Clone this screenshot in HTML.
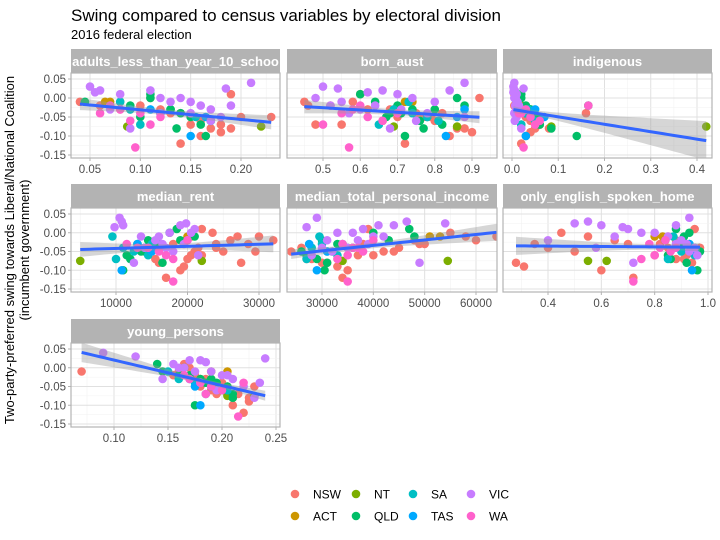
<!DOCTYPE html>
<html><head><meta charset="utf-8"><style>
body{margin:0;background:#fff;}
svg{display:block;font-family:"Liberation Sans",sans-serif;}
</style></head><body>
<svg id="chart" width="720" height="540" viewBox="0 0 720 540">
<text x="71" y="21" font-size="17" fill="#000">Swing compared to census variables by electoral division</text>
<text x="71" y="39" font-size="13" fill="#000">2016 federal election</text>
<g font-size="13" fill="#000" text-anchor="middle">
<text transform="translate(14,250) rotate(-90)">Two-party-preferred swing towards Liberal/National Coalition</text>
<text transform="translate(29,250) rotate(-90)">(incumbent government)</text>
</g>
<g id="panels"></g>
<g id="legend"></g>
</svg>
<script>
const states=["NSW","ACT","NT","QLD","SA","TAS","VIC","WA"];
const colors=["#F8766D","#CD9600","#7CAE00","#00BE67","#00BFC4","#00A9FF","#C77CFF","#FF61CC"];
const divisionState=[].concat(Array(24).fill("NSW"),Array(2).fill("ACT"),Array(2).fill("NT"),Array(15).fill("QLD"),Array(6).fill("SA"),Array(3).fill("TAS"),Array(20).fill("VIC"),Array(8).fill("WA"));
const swing=[-0.01,-0.03,-0.05,-0.08,-0.02,-0.04,-0.06,-0.10,-0.12,0.00,-0.07,-0.03,-0.05,-0.09,-0.01,-0.04,-0.06,-0.02,-0.08,-0.04,0.01,-0.05,-0.03,-0.07,
-0.01,-0.01,-0.075,-0.075,
0.01,-0.02,-0.03,-0.05,-0.07,-0.04,-0.01,0.00,-0.06,-0.10,-0.03,-0.05,-0.02,-0.04,-0.08,
-0.07,-0.04,-0.05,-0.03,-0.06,-0.01,
-0.10,-0.05,-0.03,
0.04,0.03,0.02,0.02,0.01,0.00,0.00,-0.01,-0.01,-0.02,-0.02,-0.03,-0.03,-0.04,-0.04,-0.05,-0.06,-0.08,0.025,0.015,
-0.03,-0.04,-0.05,-0.06,-0.07,-0.13,-0.02,-0.04];
const adultsLessYear10=[.04,.12,.15,.19,.06,.14,.17,.16,.14,.11,.18,.09,.20,.18,.08,.13,.16,.10,.17,.12,.19,.23,.08,.15,
.065,.07,.087,.22,
.11,.07,.13,.15,.16,.12,.045,.11,.17,.165,.13,.10,.09,.14,.136,
.10,.12,.155,.09,.17,.08,.15,.165,.11,
.21,.05,.11,.06,.08,.12,.14,.15,.13,.16,.19,.07,.17,.12,.15,.18,.17,.09,.185,.055,
.08,.10,.12,.09,.11,.095,.07,.06];
const bornAust=[.45,.62,.70,.88,.46,.75,.80,.84,.72,.92,.55,.68,.77,.90,.58,.82,.66,.52,.86,.74,.60,.79,.69,.48,
.72,.74,.69,.86,
.60,.70,.74,.78,.82,.68,.64,.86,.76,.72,.80,.67,.88,.71,.77,
.65,.74,.78,.69,.81,.73,.83,.86,.88,
.88,.50,.84,.66,.70,.48,.74,.55,.80,.64,.52,.60,.71,.78,.57,.88,.75,.68,.54,.62,
.58,.55,.62,.66,.50,.57,.60,.70];
const indigenous=[.01,.02,.03,.05,.005,.02,.04,.03,.02,.01,.06,.015,.03,.04,.01,.16,.05,.02,.08,.03,.005,.06,.01,.02,
.015,.012,.42,.085,
.02,.03,.04,.05,.06,.03,.01,.02,.05,.14,.04,.06,.165,.03,.085,
.02,.03,.04,.035,.05,.01,.03,.07,.05,
.005,.003,.004,.006,.01,.005,.008,.01,.012,.007,.015,.01,.02,.012,.005,.01,.006,.02,.025,.003,
.03,.02,.04,.06,.05,.025,.165,.015];
const medianRent=[27000,18000,21000,16000,32000,24000,22000,19000,17000,23500,20000,28500,25000,19500,30000,14000,20500,26000,27500,21500,22000,29500,24000,15500,
20500,20000,5000,22000,
18500,14500,16000,13500,12000,15000,21000,17500,11500,11000,13000,14000,19000,14000,16500,
10000,11000,12500,15000,14500,9500,10800,15000,13000,
10500,10800,11000,19000,21000,20500,17500,16000,13500,15500,20000,19500,16500,14000,17000,18000,21500,12500,19800,9800,
11500,13000,16000,17000,18000,18000,20000,14500];
const medianIncome=[64000,38000,42000,30000,60000,45000,37000,35000,34000,55000,28000,49000,44000,33000,58000,26000,40000,48000,31000,36000,39000,24000,50000,27000,
51000,53000,34000,54500,
47000,30000,34000,32000,29000,36000,48000,40000,27000,30500,33000,26000,43000,35000,31000,
27000,28000,31000,30000,33000,29500,29000,31000,27500,
29000,46500,41000,44000,38000,36000,33000,40000,42000,31000,37000,34000,39000,30000,35000,32000,28000,49000,54000,27000,
34000,36000,38000,35000,33000,35000,40000,37000];
const onlyEnglish=[.85,.70,.95,.28,.88,.85,.92,.60,.72,.45,.88,.35,.96,.31,.55,.97,.80,.65,.94,.40,.95,.50,.82,.91,
.80,.83,.62,.55,
.88,.90,.92,.94,.86,.95,.91,.93,.85,.96,.89,.97,.84,.90,.92,
.85,.88,.90,.93,.95,.87,.94,.95,.93,
.93,.55,.88,.60,.70,.75,.80,.65,.85,.90,.40,.88,.92,.58,.95,.93,.96,.72,.50,.68,
.78,.82,.86,.80,.75,.72,.84,.88];
const youngPersons=[.07,.19,.18,.21,.155,.19,.20,.21,.22,.17,.195,.185,.205,.225,.16,.20,.19,.175,.225,.185,.165,.23,.18,.215,
.205,.19,.205,.23,
.14,.17,.18,.19,.21,.185,.145,.165,.20,.175,.19,.205,.16,.195,.21,
.185,.175,.19,.16,.205,.15,.18,.175,.17,
.09,.12,.18,.17,.155,.16,.165,.175,.19,.20,.205,.145,.21,.235,.18,.22,.195,.23,.24,.185,
.17,.18,.19,.20,.185,.215,.165,.22];
const yTicks=[0.05,0,-0.05,-0.10,-0.15];
const yTickLabels=["0.05","0.00","-0.05","-0.10","-0.15"];

const NS="http://www.w3.org/2000/svg";
function mk(tag,attrs,parent){const e=document.createElementNS(NS,tag);for(const k in attrs)e.setAttribute(k,attrs[k]);if(parent)parent.appendChild(e);return e;}
const rows=[{s:49,t:73,b:158},{s:184,t:208,b:292},{s:319,t:343,b:427}];
const cols=[{l:71,r:280},{l:287,r:497},{l:503,r:712}];
const panels=[
 {title:"adults_less_than_year_10_schoo",data:adultsLessYear10,r:0,c:0,a:[0.05,90],b:[0.20,241],ticks:[0.05,0.10,0.15,0.20],labels:["0.05","0.10","0.15","0.20"]},
 {title:"born_aust",data:bornAust,r:0,c:1,a:[0.5,323],b:[0.9,472],ticks:[0.5,0.6,0.7,0.8,0.9],labels:["0.5","0.6","0.7","0.8","0.9"]},
 {title:"indigenous",data:indigenous,r:0,c:2,a:[0,512],b:[0.4,697],ticks:[0,0.1,0.2,0.3,0.4],labels:["0.0","0.1","0.2","0.3","0.4"]},
 {title:"median_rent",data:medianRent,r:1,c:0,a:[10000,116],b:[30000,259],ticks:[10000,20000,30000],labels:["10000","20000","30000"]},
 {title:"median_total_personal_income",data:medianIncome,r:1,c:1,a:[30000,322],b:[60000,476],ticks:[30000,40000,50000,60000],labels:["30000","40000","50000","60000"]},
 {title:"only_english_spoken_home",data:onlyEnglish,r:1,c:2,a:[0.4,548],b:[1.0,708],ticks:[0.4,0.6,0.8,1.0],labels:["0.4","0.6","0.8","1.0"]},
 {title:"young_persons",data:youngPersons,r:2,c:0,a:[0.10,114],b:[0.25,276],ticks:[0.10,0.15,0.20,0.25],labels:["0.10","0.15","0.20","0.25"]}
];
const root=document.getElementById('panels');
panels.forEach((p,pi)=>{
 const R=rows[p.r],C=cols[p.c];
 const xs=v=>p.a[1]+(v-p.a[0])*(p.b[1]-p.a[1])/(p.b[0]-p.a[0]);
 const ys=v=>(R.t+6)+(0.05-v)*((R.b-3)-(R.t+6))/0.20;
 const g=mk('g',{},root);
 
 
 const strip=mk('rect',{x:C.l,y:R.s,width:C.r-C.l,height:R.t-R.s,fill:"#B3B3B3"},g);
 
 
 const st=mk('text',{x:(C.l+C.r)/2,y:R.s+17,'text-anchor':'middle','font-size':13,'font-weight':'bold',fill:'#fff'},g);
 st.textContent=p.title;
 
 
 const cp=mk('clipPath',{id:'cp'+pi},g);mk('rect',{x:C.l,y:R.t,width:C.r-C.l,height:R.b-R.t},cp);
 const gg=mk('g',{'clip-path':'url(#cp'+pi+')'},g);
 const step=p.ticks[1]-p.ticks[0];
 for(let k=-2;k<=p.ticks.length*2+2;k++){const v=p.ticks[0]+(k-1)*step/2; const x=xs(v); if(x<C.l||x>C.r)continue; mk('line',{x1:x,x2:x,y1:R.t,y2:R.b,stroke:k%2===0?"#F2F2F2":"#E0E0E0",'stroke-width':k%2===0?0.6:1},gg);}
 for(let k=0;k<9;k++){const v=0.05-k*0.025; const y=ys(v); mk('line',{x1:C.l,x2:C.r,y1:y,y2:y,stroke:k%2===1?"#F2F2F2":"#E0E0E0",'stroke-width':k%2===1?0.6:1},gg);}
 const n=swing.length;let mx=0,my=0;for(let i=0;i<n;i++){mx+=p.data[i];my+=swing[i];}mx/=n;my/=n;
 let sxx=0,sxy=0;for(let i=0;i<n;i++){sxx+=(p.data[i]-mx)**2;sxy+=(p.data[i]-mx)*(swing[i]-my);}
 const sl=sxy/sxx,ic=my-sl*mx;let sse=0;for(let i=0;i<n;i++)sse+=(swing[i]-ic-sl*p.data[i])**2;
 const s=Math.sqrt(sse/(n-2));const xmin=Math.min(...p.data),xmax=Math.max(...p.data);
 const up=[],lo=[],ln=[];for(let k=0;k<=40;k++){const x=xmin+(xmax-xmin)*k/40;const f=ic+sl*x;const se=1.99*s*Math.sqrt(1/n+(x-mx)**2/sxx);up.push(xs(x)+','+ys(f+se));lo.unshift(xs(x)+','+ys(f-se));ln.push(xs(x)+','+ys(f));}
 for(let i=0;i<n;i++){const c=mk('circle',{cx:xs(p.data[i]),cy:ys(swing[i]),r:4.3,fill:colors[states.indexOf(divisionState[i])]},gg);
  
  }
 const band=mk('polygon',{points:up.concat(lo).join(' '),fill:'#999',opacity:0.4},gg);
 
 
 const fl=mk('polyline',{points:ln.join(' '),fill:'none',stroke:'#3366FF','stroke-width':3},gg);
 
 
 mk('rect',{x:C.l,y:R.t,width:C.r-C.l,height:R.b-R.t,fill:'none',stroke:'#B3B3B3','stroke-width':1.2},g);
 p.ticks.forEach((t,j)=>{const x=xs(t);mk('line',{x1:x,x2:x,y1:R.b,y2:R.b+3,stroke:'#B3B3B3'},g);
  const tl=mk('text',{x:x,y:R.b+15,'text-anchor':'middle','font-size':11.5,fill:'#4D4D4D'},g);tl.textContent=p.labels[j];
  
  });
 if(p.c===0){yTicks.forEach((t,j)=>{const y=ys(t);mk('line',{x1:C.l-3,x2:C.l,y1:y,y2:y,stroke:'#B3B3B3'},g);
  const tl=mk('text',{x:C.l-5,y:y+4,'text-anchor':'end','font-size':11.5,fill:'#4D4D4D'},g);tl.textContent=yTickLabels[j];
  
  });}
});
const lg=document.getElementById('legend');
const legX=[295,356,413,471],legY=[494,516];
const legOrder=["NSW","NT","SA","VIC","ACT","QLD","TAS","WA"];
legOrder.forEach((s,k)=>{const x=legX[k%4],y=legY[Math.floor(k/4)];
 const e=mk('g',{},lg);
 
 
 mk('circle',{cx:x,cy:y,r:4.3,fill:colors[states.indexOf(s)]},e);
 const t=mk('text',{x:x+18,y:y+4.5,'font-size':12,fill:'#000'},e);t.textContent=s;});
</script>
</body></html>
